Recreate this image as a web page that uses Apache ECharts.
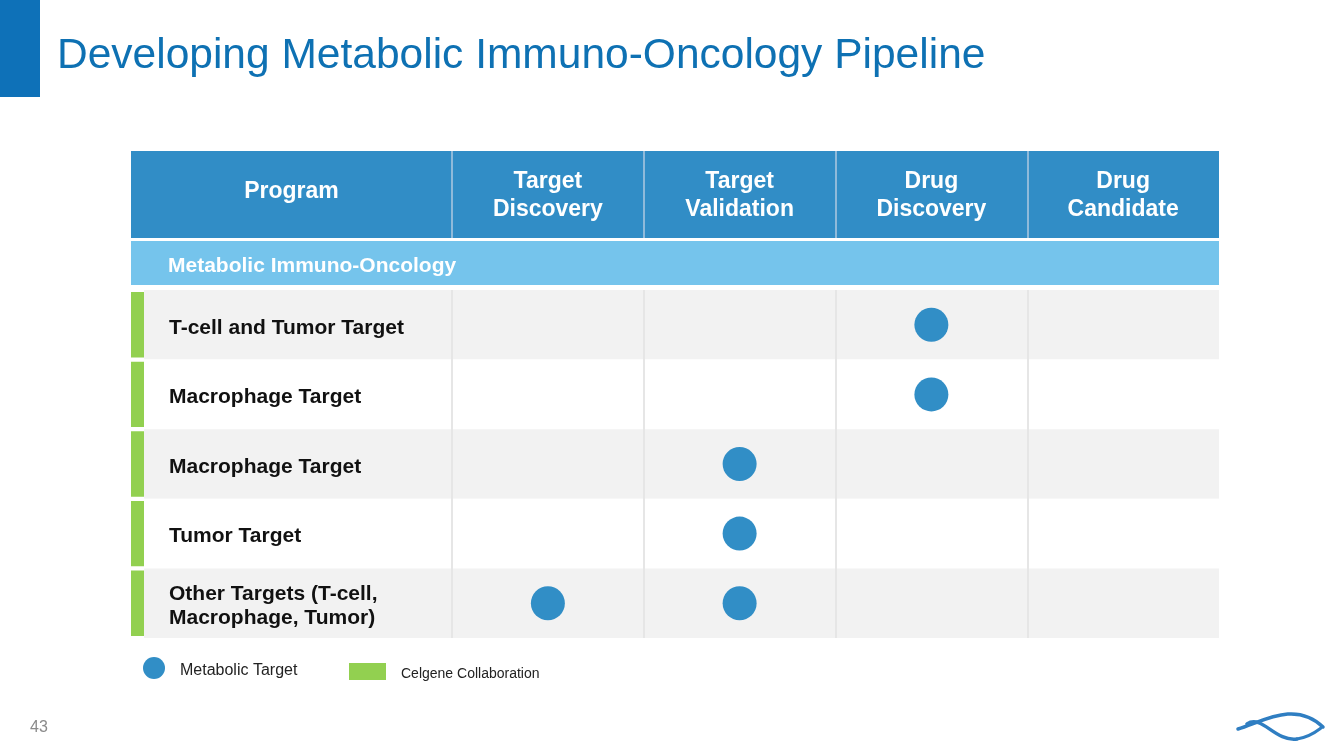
<!DOCTYPE html>
<html>
<head>
<meta charset="utf-8">
<script src="https://cdn.jsdelivr.net/npm/echarts@6/dist/echarts.min.js"></script>
<style>
html,body{margin:0;padding:0;background:#fff;}
#main{width:1344px;height:756px;}
</style>
</head>
<body>
<div id="main"></div>
<script>
// ---- data ----
var titleText = 'Developing Metabolic Immuno-Oncology Pipeline';
var programHeader = ['Program'];
var stages = ['Target\nDiscovery', 'Target\nValidation', 'Drug\nDiscovery', 'Drug\nCandidate'];
var groupName = ['Metabolic Immuno-Oncology'];
var programs = [
  'T-cell and Tumor Target',
  'Macrophage Target',
  'Macrophage Target ',
  'Tumor Target',
  'Other Targets (T-cell,\nMacrophage, Tumor)'
];
// stage(s) reached by each program (a dot = metabolic target)
var programStages = [
  ['Drug\nDiscovery'],
  ['Drug\nDiscovery'],
  ['Target\nValidation'],
  ['Target\nValidation'],
  ['Target\nDiscovery', 'Target\nValidation']
];
// Celgene collaboration flag per program
var celgene = [1, 1, 1, 1, 1];
var pageNumber = '43';

// ---- build ----
var dots = [];
programs.forEach(function (p, i) {
  programStages[i].forEach(function (s) { dots.push([s, p]); });
});

var headerBlue = '#318DC6';
var font = 'Liberation Sans, Arial, Helvetica, sans-serif';
var chart = echarts.init(document.getElementById('main'));

var tableTop = 290, tableBottom = 756 - 638;
var textShift = 3;
var noAxis = { axisLine: { show: false }, axisTick: { show: false } };
function cat(o) { return Object.assign({ type: 'category' }, noAxis, o); }

chart.setOption({
  backgroundColor: '#ffffff',
  animation: false,
  textStyle: { fontFamily: font },
  title: {
    text: titleText, left: 57, top: 35, padding: 0,
    textStyle: { fontFamily: font, fontSize: 42.5, fontWeight: 'normal', color: '#0E71B3' }
  },
  legend: [
    {
      data: ['Metabolic Target'], left: 143, top: 657, itemWidth: 22, itemHeight: 22, padding: 0,
      icon: 'circle', selectedMode: false,
      formatter: '{t|{name}}',
      textStyle: { rich: { t: { fontFamily: font, fontSize: 16, color: '#222', padding: [6, 0, 0, 10] } } }
    },
    {
      data: ['Celgene Collaboration'], left: 349, top: 663, itemWidth: 37, itemHeight: 17, padding: 0,
      icon: 'rect', selectedMode: false,
      formatter: '{t|{name}}',
      textStyle: { rich: { t: { fontFamily: font, fontSize: 14, color: '#222', padding: [5, 0, 0, 10] } } }
    }
  ],
  grid: [
    // 0 header program
    { left: 131, width: 321, top: 151, height: 87, show: true, backgroundColor: headerBlue, borderWidth: 0 },
    // 1 header stages
    { left: 452, right: 125, top: 151, height: 87, show: true, backgroundColor: headerBlue, borderWidth: 0 },
    // 2 group sub-header background
    { left: 131, right: 125, top: 241, height: 44, show: true, backgroundColor: '#75C4EC', borderWidth: 0 },
    // 3 celgene marker column
    { left: 131, width: 13, top: tableTop, bottom: tableBottom },
    // 4 program column bands
    { left: 144, width: 308, top: tableTop, bottom: tableBottom },
    // 5 stage cells
    { left: 452, right: 125, top: tableTop, bottom: tableBottom },
    // 6 group label
    { left: 131, right: 125, top: 241 + textShift, height: 44 },
    // 7 program labels
    { left: 144, width: 308, top: tableTop + textShift, bottom: tableBottom - textShift }
  ],
  xAxis: [
    cat({ gridIndex: 0, data: programHeader,
      axisLabel: { inside: true, margin: 46, verticalAlign: 'middle', color: '#fff', fontFamily: font, fontSize: 23, fontWeight: 'bold', lineHeight: 28 } }),
    cat({ gridIndex: 1, data: stages,
      splitLine: { show: true, showMinLine: true, showMaxLine: false, lineStyle: { color: '#8FBADA', width: 2 } },
      axisLabel: { inside: true, margin: 42, verticalAlign: 'middle', color: '#fff', fontFamily: font, fontSize: 23, fontWeight: 'bold', lineHeight: 28 } }),
    { gridIndex: 2, type: 'value', show: false, min: 0, max: 1 },
    { gridIndex: 3, type: 'value', show: false, min: 0, max: 1 },
    { gridIndex: 4, type: 'value', show: false, min: 0, max: 1 },
    cat({ gridIndex: 5, data: stages, axisLabel: { show: false },
      splitLine: { show: true, showMinLine: true, showMaxLine: false, lineStyle: { color: '#E6E6E6', width: 2 } } }),
    { gridIndex: 6, type: 'value', show: false, min: 0, max: 1 },
    { gridIndex: 7, type: 'value', show: false, min: 0, max: 1 }
  ],
  yAxis: [
    { gridIndex: 0, type: 'value', show: false },
    { gridIndex: 1, type: 'value', show: false },
    { gridIndex: 2, type: 'value', show: false },
    cat({ gridIndex: 3, data: programs, inverse: true, axisLabel: { show: false } }),
    cat({ gridIndex: 4, data: programs, inverse: true, axisLabel: { show: false },
      splitArea: { show: true, areaStyle: { color: ['#F2F2F2', '#FFFFFF'] } } }),
    cat({ gridIndex: 5, data: programs, inverse: true, axisLabel: { show: false },
      splitArea: { show: true, areaStyle: { color: ['#F2F2F2', '#FFFFFF'] } } }),
    cat({ gridIndex: 6, data: groupName,
      axisLabel: { inside: true, margin: 37, color: '#fff', fontFamily: font, fontSize: 21, fontWeight: 'bold' } }),
    cat({ gridIndex: 7, data: programs, inverse: true,
      axisLabel: { inside: true, margin: 25, color: '#111', fontFamily: font, fontSize: 21, fontWeight: 'bold', lineHeight: 24 } })
  ],
  series: [
    {
      name: 'Celgene Collaboration', type: 'bar', xAxisIndex: 3, yAxisIndex: 3,
      data: celgene, barWidth: '94%', itemStyle: { color: '#92D050' }, silent: true
    },
    {
      name: 'Metabolic Target', type: 'scatter', xAxisIndex: 5, yAxisIndex: 5,
      data: dots, symbol: 'circle', symbolSize: 34, itemStyle: { color: '#318EC6', opacity: 1 }, silent: true
    }
  ],
  graphic: [
    { type: 'rect', left: 0, top: 0, shape: { width: 40, height: 97 }, style: { fill: '#0E71B8' } },
    { type: 'text', left: 30, top: 720, style: { text: pageNumber, fill: '#8A8A8A', font: '16px ' + font } },
    { type: 'bezierCurve', shape: { x1: 1238, y1: 729, cpx1: 1262, cpy1: 722, cpx2: 1295, cpy2: 700, x2: 1323, y2: 727 },
      style: { stroke: '#2F7EC2', lineWidth: 3.5, fill: null, lineCap: 'round' } },
    { type: 'bezierCurve', shape: { x1: 1247, y1: 724, cpx1: 1262, cpy1: 714, cpx2: 1275, cpy2: 742, x2: 1297, y2: 739 },
      style: { stroke: '#2F7EC2', lineWidth: 3.5, fill: null, lineCap: 'round' } },
    { type: 'bezierCurve', shape: { x1: 1297, y1: 739, cpx1: 1310, cpy1: 737, cpx2: 1317, cpy2: 731, x2: 1321, y2: 728 },
      style: { stroke: '#2F7EC2', lineWidth: 3, fill: null, lineCap: 'round' } }
  ]
});
</script>
</body>
</html>
